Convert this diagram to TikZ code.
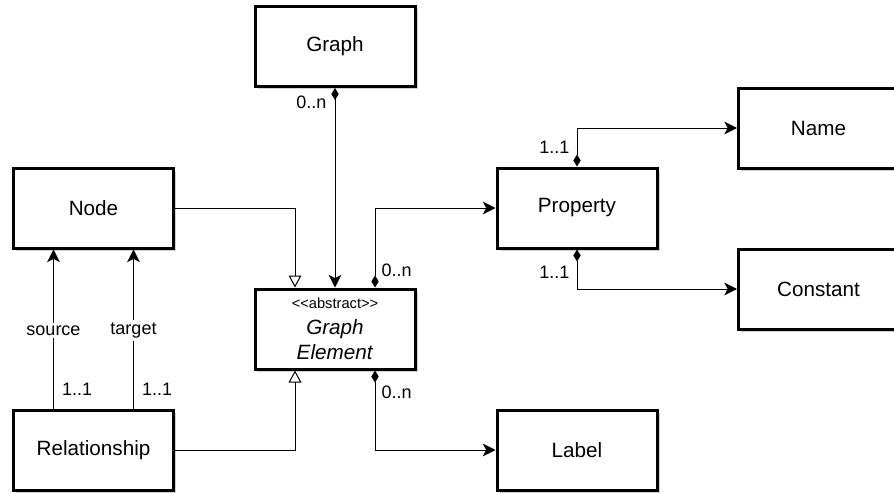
\documentclass[tikz,border=0pt]{standalone}
\usepackage{fontspec}
\setmainfont{Liberation Sans}
\usetikzlibrary{arrows.meta,calc,shadows}
\begin{document}
\begin{tikzpicture}[x=0.75pt,y=-0.75pt,
  umlbox/.style={draw=black, line width=2.25pt, fill=white,
    minimum width=120pt, minimum height=60pt, inner sep=0pt, align=center,
    font=\fontsize{15.5}{18.5}\selectfont,
    drop shadow={shadow xshift=2.2pt, shadow yshift=-2.2pt, fill=black!60, opacity=0.3}},
  link/.style={draw=black, line width=0.75pt},
  tipassoc/.tip={Stealth[length=9.5pt,width=9.5pt,inset=2.5pt]},
  assoc/.style={link, -tipassoc},
  comp/.style={link, {Diamond[length=9pt,width=5.5pt]}-tipassoc},
  inherit/.style={link, -{Triangle[open,length=9pt,width=9.5pt,fill=white]}},
  mult/.style={font=\fontsize{13.5}{16}\selectfont, inner sep=1pt},
  role/.style={mult, fill=white, inner sep=2pt}]

\useasboundingbox (0,0) rectangle (894,493);

% classes
\node[umlbox] (graph) at (335,46.5) {Graph};
\node[umlbox] (node)  at (93.5,208) {Node};
\node[umlbox] (rel)   at (93.5,450.5) {Relationship};
\node[umlbox] (ge)    at (335,329)
  {{\fontsize{11}{13}\selectfont <\kern0pt<abstract>\kern0pt>}\\[1pt]\textit{Graph}\\\textit{Element}};
\node[umlbox] (prop)  at (577,208) {Property};
\node[umlbox] (name)  at (818.5,128) {Name};
\node[umlbox] (const) at (818.5,289) {Constant};
\node[umlbox] (label) at (577,450) {Label};

% associations and compositions
\draw[comp] (graph.south) -- (ge.north);
\draw[comp] ($(ge.north)+(40,0)$) |- (prop.west);
\draw[comp] (prop.north) |- (name.west);
\draw[comp] (prop.south) |- (const.west);
\draw[comp] ($(ge.south)+(40,0)$) |- (label.west);

% generalisations
\draw[inherit] (node.east) -| ($(ge.north)+(-40,0)$);
\draw[inherit] (rel.east) -| ($(ge.south)+(-40,0)$);

% source / target references
\draw[assoc] ($(rel.north)+(-40,0)$) -- ($(node.south)+(-40,0)$)
  node[role, pos=0.49] {source};
\draw[assoc] ($(rel.north)+(40,0)$) -- ($(node.south)+(40,0)$)
  node[role, pos=0.49] {target};

% multiplicities
\node[mult, anchor=east] (m1) at ($(graph.south)+(-7,14)$) {0..n};
\node[mult, anchor=west] (m2) at ($(ge.north)+(45,-17)$) {0..n};
\node[mult, anchor=east] (m3) at ($(prop.north)+(-6,-19)$) {1..1};
\node[mult, anchor=east] (m4) at ($(prop.south)+(-6,23)$) {1..1};
\node[mult, anchor=west] (m5) at ($(ge.south)+(45,22)$) {0..n};
\node[mult, anchor=west] (m6) at ($(rel.north)+(-33,-20)$) {1..1};
\node[mult, anchor=west] (m7) at ($(rel.north)+(47,-20)$) {1..1};
\end{tikzpicture}
\end{document}
